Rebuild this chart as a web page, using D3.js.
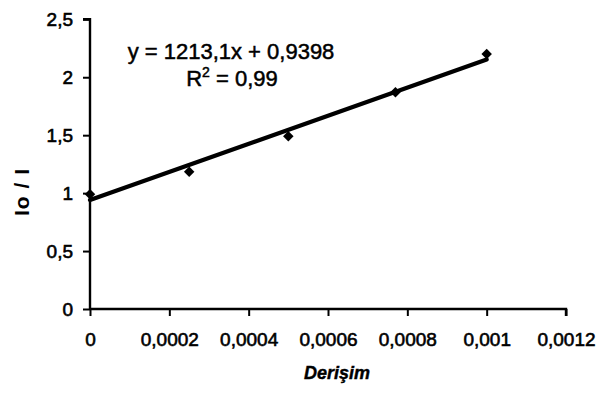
<!DOCTYPE html>
<html><head><meta charset="utf-8">
<script src="https://cdn.jsdelivr.net/npm/d3@7"></script>
<style>body{margin:0;background:#fff}svg{display:block}text{font-family:"Liberation Sans",Arial,sans-serif;fill:#000}</style>
</head><body>
<svg id="c" width="601" height="397"></svg>
<script>
const concentration = [0, 0.00025, 0.0005, 0.00077, 0.001];
const ratio = [0.99, 1.185, 1.49, 1.87, 2.2];
const xTicks = [0, 0.0002, 0.0004, 0.0006, 0.0008, 0.001, 0.0012];
const yTicks = [0, 0.5, 1, 1.5, 2, 2.5];
const slope = 1213.1, intercept = 0.9398;
const equationText = "y = 1213,1x + 0,9398";
const r2Text = "0,99";
const xTitle = "Derişim", yTitle = "Io / I";

const svg = d3.select("#c");
const x = d3.scaleLinear().domain([0, 0.0012]).range([90, 566]);
const y = d3.scaleLinear().domain([0, 2.5]).range([309, 19.3]);
const fmt = v => String(+v.toPrecision(6)).replace(".", ",");

const xa = svg.append("g").attr("transform", "translate(0,309)")
  .call(d3.axisBottom(x).tickValues(xTicks).tickFormat(fmt).tickSize(7).tickPadding(17));
const ya = svg.append("g").attr("transform", "translate(90,0)")
  .call(d3.axisLeft(y).tickValues(yTicks).tickFormat(fmt).tickSize(7).tickPadding(10));
[xa, ya].forEach(g => {
  g.select(".domain").attr("stroke", "#000").attr("stroke-width", 2.4);
  g.selectAll(".tick line").attr("stroke", "#000").attr("stroke-width", 2);
  g.selectAll(".tick text").attr("font-size", 19).attr("fill", "#000")
    .attr("font-family", "Liberation Sans, Arial, sans-serif")
    .attr("stroke", "#000").attr("stroke-width", 0.6);
});
ya.select(".domain").attr("d", "M-7,19.3H0V309");
xa.select(".domain").attr("d", "M90,0H566V7");

// trendline
const tx = d3.extent(concentration);
svg.append("line")
  .attr("x1", x(tx[0])).attr("y1", y(intercept + slope * tx[0]))
  .attr("x2", x(tx[1])).attr("y2", y(intercept + slope * tx[1]))
  .attr("stroke", "#000").attr("stroke-width", 4.2).attr("stroke-linecap", "round");

// markers
svg.selectAll("path.pt").data(concentration).join("path").attr("class", "pt")
  .attr("d", d3.symbol(d3.symbolDiamond2, 70))
  .attr("transform", (d, i) => `translate(${x(d)},${y(ratio[i])})`)
  .attr("fill", "#000");

// equation
const eq = svg.append("text").attr("x", 231).attr("y", 59).attr("text-anchor", "middle")
  .attr("font-size", 22).attr("stroke", "#000").attr("stroke-width", 0.5).text(equationText);
const r = svg.append("text").attr("x", 232).attr("y", 86).attr("text-anchor", "middle")
  .attr("font-size", 22).attr("stroke", "#000").attr("stroke-width", 0.5);
r.append("tspan").text("R");
r.append("tspan").attr("dy", -9).attr("font-size", 14).text("2");
r.append("tspan").attr("dy", 9).text(" = " + r2Text);

svg.append("text").attr("x", 337).attr("y", 379).attr("text-anchor", "middle")
  .attr("font-size", 18).attr("font-weight", "bold").attr("font-style", "italic")
  .attr("stroke", "#000").attr("stroke-width", 0.4).text(xTitle);
svg.append("text").attr("transform", "translate(29,192) rotate(-90)").attr("text-anchor", "middle")
  .attr("font-size", 21).attr("font-weight", "bold").attr("letter-spacing", 1).text(yTitle);
</script>
</body></html>
